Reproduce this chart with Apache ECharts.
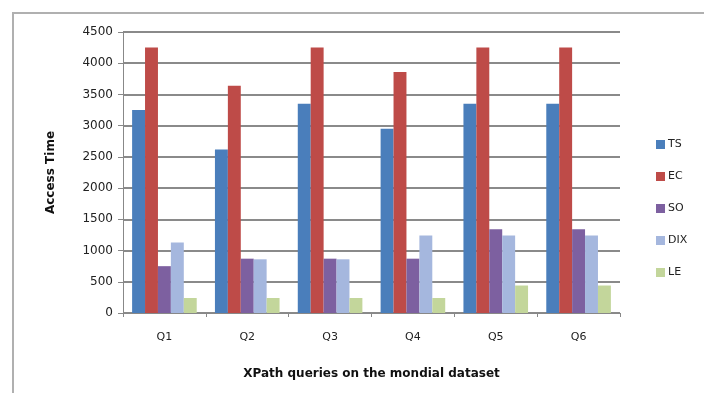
<!DOCTYPE html>
<html>
<head>
<meta charset="utf-8">
<script src="https://cdn.jsdelivr.net/npm/echarts@6/dist/echarts.min.js"></script>
<style>
html, body { margin: 0; padding: 0; background: #fff; }
#chart { width: 704px; height: 393px; }
</style>
</head>
<body>
<div id="chart"></div>
<script>
let chart = echarts.init(document.getElementById('chart'));

let queries = ['Q1', 'Q2', 'Q3', 'Q4', 'Q5', 'Q6'];
let tsValues = [3250, 2620, 3350, 2950, 3350, 3350];
let ecValues = [4250, 3640, 4250, 3860, 4250, 4250];
let soValues = [750, 870, 870, 870, 1340, 1340];
let dixValues = [1130, 860, 860, 1240, 1240, 1240];
let leValues = [240, 240, 240, 240, 440, 440];
let yTicks = [0, 500, 1000, 1500, 2000, 2500, 3000, 3500, 4000, 4500];

let font = 'DejaVu Sans';

function bar(name, data, color) {
	return {
		name: name,
		type: 'bar',
		data: data,
		barGap: '0%',
		barCategoryGap: '22%',
		itemStyle: { color: color }
	};
}

option = {
	animation: false,
	backgroundColor: '#fff',
	graphic: [{
		type: 'polyline',
		shape: { points: [[13, 400], [13, 13], [710, 13]] },
		style: { stroke: '#b0b0b0', lineWidth: 2, fill: null }
	}],
	legend: {
		orient: 'vertical',
		left: 651,
		top: 134,
		itemWidth: 9,
		itemHeight: 9,
		itemGap: 21,
		icon: 'rect',
		textStyle: { fontFamily: font, fontSize: 11, color: '#222', padding: [0, 0, 0, -2] },
		data: ['TS', 'EC', 'SO', 'DIX', 'LE']
	},
	grid: { left: 123, right: 84, top: 32, bottom: 80 },
	xAxis: {
		type: 'category',
		data: queries,
		name: 'XPath queries on the mondial dataset',
		nameLocation: 'middle',
		nameGap: 55,
		nameTextStyle: { fontFamily: font, fontSize: 12, fontWeight: 'bold', color: '#111' },
		axisLine: { lineStyle: { color: '#888', width: 1 } },
		axisTick: { show: true, length: 4, lineStyle: { color: '#888' } },
		axisLabel: { fontFamily: font, fontSize: 11, color: '#222', margin: 19 }
	},
	yAxis: {
		type: 'value',
		min: 0,
		max: 4500,
		interval: 500,
		name: 'Access Time',
		nameLocation: 'middle',
		nameGap: 66,
		nameTextStyle: { fontFamily: font, fontSize: 12, fontWeight: 'bold', color: '#111' },
		axisLine: { show: true, lineStyle: { color: '#888', width: 1 } },
		axisTick: { show: true, length: 5, lineStyle: { color: '#888' } },
		axisLabel: {
			fontFamily: font, fontSize: 12, color: '#222', margin: 10,
			formatter: function(v) { return yTicks.indexOf(v) >= 0 ? String(v) : ''; }
		},
		splitLine: { lineStyle: { color: '#8a8a8a', width: 2 } }
	},
	series: [
		bar('TS', tsValues, '#4a7ebb'),
		bar('EC', ecValues, '#be4b48'),
		bar('SO', soValues, '#7d60a0'),
		bar('DIX', dixValues, '#a5b7de'),
		bar('LE', leValues, '#c3d69b')
	]
};

chart.setOption(option, true);
</script>
</body>
</html>
